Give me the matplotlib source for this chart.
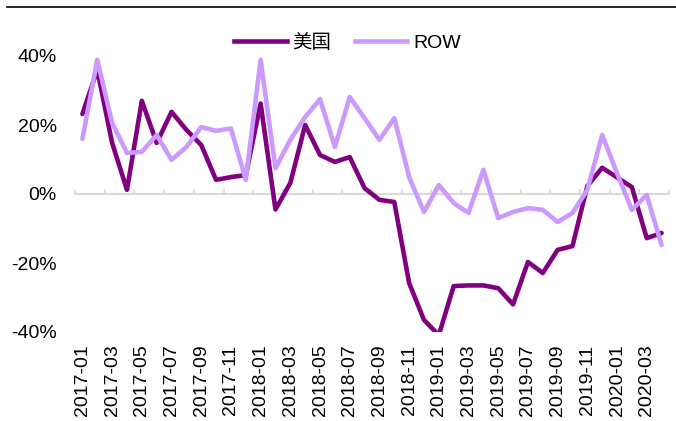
import matplotlib
matplotlib.use("Agg")
import matplotlib.pyplot as plt
import matplotlib.transforms as mtransforms
from matplotlib.lines import Line2D
import numpy as np

plt.rcParams['font.family'] = ['Liberation Sans', 'Noto Sans CJK SC', 'DejaVu Sans']

months = ["2017-01", "2017-02", "2017-03", "2017-04", "2017-05", "2017-06",
          "2017-07", "2017-08", "2017-09", "2017-10", "2017-11", "2017-12",
          "2018-01", "2018-02", "2018-03", "2018-04", "2018-05", "2018-06",
          "2018-07", "2018-08", "2018-09", "2018-10", "2018-11", "2018-12",
          "2019-01", "2019-02", "2019-03", "2019-04", "2019-05", "2019-06",
          "2019-07", "2019-08", "2019-09", "2019-10", "2019-11", "2019-12",
          "2020-01", "2020-02", "2020-03", "2020-04"]

# 美国 (US), %
us = [23.2, 36.0, 14.8, 1.2, 27.0, 14.8, 23.8, 18.6, 14.2, 4.1,
      4.9, 5.5, 26.2, -4.5, 3.2, 20.0, 11.3, 9.3, 10.7, 1.7,
      -1.7, -2.3, -25.8, -36.5, -40.9, -26.7, -26.5, -26.5, -27.3, -32.0,
      -19.7, -22.9, -16.2, -15.1, 2.3, 7.6, 4.8, 2.0, -12.8, -11.3]

# ROW, %
row = [16.0, 38.9, 20.6, 11.9, 12.2, 17.1, 9.9, 13.6, 19.4, 18.3,
       19.0, 4.1, 38.9, 7.5, 15.7, 22.3, 27.5, 13.6, 28.1, 22.0,
       15.7, 22.0, 4.9, -5.2, 2.6, -2.6, -5.5, 7.0, -7.0, -5.2,
       -4.1, -4.6, -8.1, -5.5, 1.2, 17.1, 6.0, -4.6, -0.3, -14.8]

us_color = "#800080"
row_color = "#CC99FF"
grid_color = "#D9D9D9"
lw = 3.3

fig = plt.figure(figsize=(6.76, 4.21), dpi=100)
ax = fig.add_axes([75 / 676, 1 - 332 / 421, 594 / 676, 276 / 421])

x = np.arange(len(months))
ax.plot(x, us, color=us_color, lw=lw, solid_joinstyle="round", solid_capstyle="round", zorder=3)
ax.plot(x, row, color=row_color, lw=lw, solid_joinstyle="round", solid_capstyle="round", zorder=4)

ax.set_xlim(-0.5, len(months) - 0.5)
ax.set_ylim(-40, 40)
ax.set_yticks([-40, -20, 0, 20, 40])
ax.set_yticklabels(["-40%", "-20%", "0%", "20%", "40%"], fontsize=14)
ax.tick_params(axis="y", length=0, pad=13)

# category axis sits at zero, tick marks between every second category
for s in ["top", "right", "left"]:
    ax.spines[s].set_visible(False)
ax.spines["bottom"].set_position(("data", 0))
ax.spines["bottom"].set_color(grid_color)
ax.spines["bottom"].set_linewidth(1.5)
ax.spines["bottom"].set_zorder(1)
ax.set_xticks(np.arange(-0.5, len(months), 2))
ax.set_xticklabels([])
ax.tick_params(axis="x", direction="in", length=3.5, width=1.2, color=grid_color)

trans = mtransforms.blended_transform_factory(ax.transData, ax.transAxes)
for i in range(0, len(months), 2):
    ax.text(i, -0.045, months[i], transform=trans, rotation=90,
            ha="center", va="top", fontsize=14)

handles = [Line2D([], [], color=us_color, lw=lw),
           Line2D([], [], color=row_color, lw=lw)]
fig.legend(handles, ["美国", "ROW"], loc="center", bbox_to_anchor=(0.514, 0.898),
           ncol=2, frameon=False, fontsize=14, handlelength=2.7,
           handletextpad=0.3, columnspacing=1.2)

fig.add_artist(Line2D([7 / 676, 1], [1 - 7 / 421, 1 - 7 / 421], color="black", lw=1.2))

fig.savefig("out.png", dpi=100)
